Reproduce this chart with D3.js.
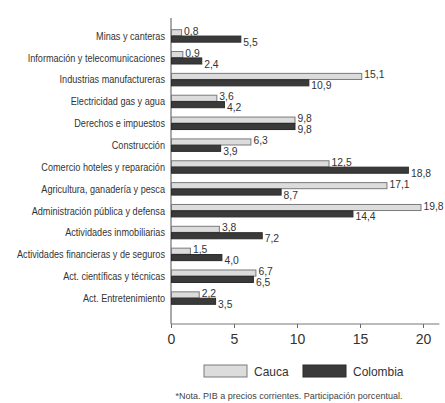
<!DOCTYPE html>
<html><head><meta charset="utf-8">
<script src="https://cdn.jsdelivr.net/npm/d3@7"></script>
<style>body{margin:0;background:#fff}svg{display:block}</style>
</head><body><svg id="c" width="445" height="403"></svg>
<script>
const categories = ["Minas y canteras","Información y telecomunicaciones","Industrias manufactureras","Electricidad gas y agua","Derechos e impuestos","Construcción","Comercio hoteles y reparación","Agricultura, ganadería y pesca","Administración pública y defensa","Actividades inmobiliarias","Actividades financieras y de seguros","Act. científicas y técnicas","Act. Entretenimiento"];
const cauca = [0.8,0.9,15.1,3.6,9.8,6.3,12.5,17.1,19.8,3.8,1.5,6.7,2.2];
const colombia = [5.5,2.4,10.9,4.2,9.8,3.9,18.8,8.7,14.4,7.2,4.0,6.5,3.5];
const xTicks = [0,5,10,15,20];
const seriesNames = ["Cauca","Colombia"];
const note = "*Nota. PIB a precios corrientes. Participación porcentual.";

const svg = d3.select("#c");
const x = d3.scaleLinear().domain([0,20]).range([171,423]);
const y = d3.scaleBand().domain(categories).range([25,309]).paddingInner(0.4).paddingOuter(0.2);
const sub = d3.scaleBand().domain(seriesNames).range([0,y.bandwidth()]).padding(0.05);
const fill = {Cauca:"#dcdcdc", Colombia:"#3a3a3a"};
const stroke = {Cauca:"#7a7a7a", Colombia:"#2a2a2a"};
const font = "'Liberation Sans',Arial,sans-serif";
const SX = 0.83;

// axes
svg.append("line").attr("x1",x(0)).attr("x2",x(0)).attr("y1",18).attr("y2",324).attr("stroke","#555");
const xa = svg.append("g").attr("transform","translate(0,324)")
  .call(d3.axisBottom(x).tickValues(xTicks).tickSize(4).tickSizeOuter(0));
xa.select(".domain").remove();
xa.append("line").attr("x1",x(0)).attr("x2",x(21.3)).attr("stroke","#777");
xa.selectAll(".tick line").attr("stroke","#666");
xa.selectAll("text").attr("font-family",font).attr("font-size",14).attr("fill","#333").attr("dy","0.9em");

// category labels
svg.append("g").selectAll("text").data(categories).join("text")
  .attr("transform",d=>`translate(165,${y(d)+y.bandwidth()/2}) scale(${SX},1)`).attr("dy","0.35em")
  .attr("text-anchor","end").attr("font-family",font).attr("font-size",11).attr("fill","#333").text(d=>d);

const data = categories.map((c,i)=>({c, vals:[{s:"Cauca",v:cauca[i]},{s:"Colombia",v:colombia[i]}]}));
const g = svg.append("g").selectAll("g").data(data).join("g").attr("transform",d=>`translate(0,${y(d.c)})`);
g.selectAll("rect").data(d=>d.vals).join("rect")
  .attr("x",x(0)+0.5).attr("y",d=>sub(d.s)).attr("height",sub.bandwidth())
  .attr("width",d=>x(d.v)-x(0)).attr("fill",d=>fill[d.s]).attr("stroke",d=>stroke[d.s]).attr("stroke-width",1);
g.selectAll("text").data(d=>d.vals).join("text")
  .attr("transform",d=>`translate(${x(d.v)+3},${sub(d.s)+sub.bandwidth()/2 + (d.s==="Cauca"?-2:2.5)}) scale(0.9,1)`).attr("dy","0.35em")
  .attr("font-family",font).attr("font-size",11.5).attr("fill","#333")
  .text(d=>d.v.toFixed(1).replace(".",","));

// legend
const lg = svg.append("g");
const lx = [204,303];
seriesNames.forEach((s,i)=>{
  lg.append("rect").attr("x",lx[i]).attr("y",365).attr("width",43).attr("height",12).attr("fill",fill[s]).attr("stroke",stroke[s]);
  lg.append("text").attr("transform",`translate(${lx[i]+50},371) scale(0.92,1)`).attr("dy","0.35em").attr("font-family",font).attr("font-size",13).attr("fill","#333").text(s);
});
svg.append("text").attr("transform","translate(289,396) scale(0.95,1)").attr("dy","0.35em").attr("text-anchor","middle")
  .attr("font-family",font).attr("font-size",9.5).attr("fill","#444").text(note);
</script></body></html>
